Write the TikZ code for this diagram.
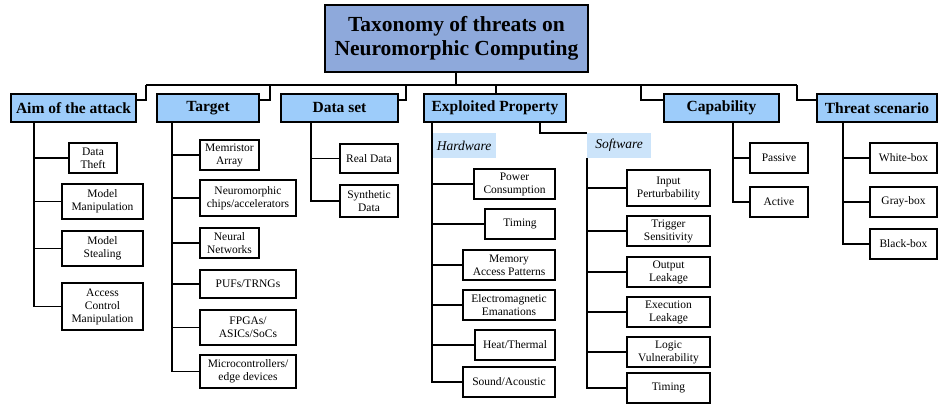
\documentclass[tikz,border=0pt]{standalone}
\usepackage{fontspec}
\setmainfont{Liberation Serif}
\definecolor{rootc}{HTML}{8EA9DB}
\definecolor{catc}{HTML}{9DCCFA}
\definecolor{subc}{HTML}{CCE4FA}
\tikzset{
  ln/.style={line width=1.3pt},
  box/.style={draw,line width=1.1pt,inner sep=1pt,align=center,font=\fontsize{11.5}{13}\selectfont},
  cat/.style={box,fill=catc,line width=1.4pt,font=\fontsize{15.5}{17}\selectfont\bfseries},
  sub/.style={fill=subc,inner sep=1pt,font=\fontsize{13.5}{15}\selectfont\itshape},
}
\newcommand{\bx}[7]{\node[#1,minimum width=#4-#2,minimum height=#5-#3] (#6) at ({(#2+#4)/2},{(#3+#5)/2}) {#7};}
\begin{document}
\begin{tikzpicture}[x=1pt,y=-1pt]
\useasboundingbox (0,0) rectangle (947,409);
\bx{box,fill=rootc,line width=1.6pt,font=\fontsize{21.5}{24}\selectfont\bfseries}{325}{5}{588}{72}{root}{Taxonomy of threats on\\Neuromorphic Computing}
\bx{cat}{11}{94}{136}{122}{aim}{Aim of the attack}
\bx{cat}{157}{94}{259}{122}{tgt}{Target}
\bx{cat}{281}{94}{398}{122}{ds}{Data set}
\bx{cat}{424}{94}{566}{122}{ep}{Exploited Property}
\bx{cat}{664}{94}{779}{122}{cap}{Capability}
\bx{cat}{817}{94}{937}{122}{ts}{Threat scenario}
% bus
\coordinate (b0) at (456,85);
\draw[ln] (root.south -| b0) -- (b0);
\draw[ln] (146,85) -- (797,85);
\draw[ln] (146,85) |- (aim.east |- 0,100);
\draw[ln] (270,85) |- (tgt.east |- 0,100);
\draw[ln] (406,85) |- (ds.east |- 0,100);
\draw[ln] (496,85) -- (ep.north -| 496,0);
\draw[ln] (641,85) |- (cap.west |- 0,100);
\draw[ln] (797,85) |- (ts.west |- 0,100);
% Aim
\bx{box}{69}{143}{117}{173}{a1}{Data\\Theft}
\bx{box}{62}{184}{143}{219}{a2}{Model\\Manipulation}
\bx{box}{62}{231}{143}{266}{a3}{Model\\Stealing}
\bx{box}{62}{283}{143}{330}{a4}{Access\\Control\\Manipulation}
\coordinate (aS) at (34,122);
\foreach \n in {a1,a2,a3,a4} \draw[ln] (aS) |- (\n.west);
% Target
\bx{box}{200}{140}{259}{170}{t1}{Memristor\\Array}
\bx{box}{200}{180}{296}{216}{t2}{Neuromorphic\\chips/accelerators}
\bx{box}{200}{228}{259}{258}{t3}{Neural\\Networks}
\bx{box}{200}{270}{296}{298}{t4}{PUFs/TRNGs}
\bx{box}{200}{310}{296}{345}{t5}{FPGAs/\\ASICs/SoCs}
\bx{box}{200}{355}{296}{388}{t6}{Microcontrollers/\\edge devices}
\coordinate (tS) at (172,122);
\foreach \n in {t1,t2,t3,t4,t5,t6} \draw[ln] (tS) |- (\n.west);
% Data set
\bx{box}{340}{144}{398}{173}{d1}{Real Data}
\bx{box}{340}{185}{398}{217}{d2}{Synthetic\\Data}
\coordinate (dS) at (311,122);
\foreach \n in {d1,d2} \draw[ln] (dS) |- (\n.west);
% Exploited
\bx{sub}{432}{133}{496}{158}{hw}{Hardware}
\bx{sub}{587}{133}{651}{158}{sw}{Software}
\coordinate (eS) at (432,122);
\coordinate (eT) at (540,122);
\draw[ln] (eT) |- (sw.west |- 0,133);
\bx{box}{474}{169}{555}{199}{h1}{Power\\Consumption}
\bx{box}{485}{209}{555}{239}{h2}{Timing}
\bx{box}{463}{250}{555}{280}{h3}{Memory\\Access Patterns}
\bx{box}{463}{290}{555}{320}{h4}{Electromagnetic\\Emanations}
\bx{box}{475}{330}{555}{360}{h5}{Heat/Thermal}
\bx{box}{463}{367}{555}{397}{h6}{Sound/Acoustic}
\foreach \n in {h1,h2,h3,h4,h5,h6} \draw[ln] (eS) |- (\n.west);
\bx{box}{627}{170}{710}{206}{s1}{Input\\Perturbability}
\bx{box}{627}{216}{710}{246}{s2}{Trigger\\Sensitivity}
\bx{box}{627}{257}{710}{287}{s3}{Output\\Leakage}
\bx{box}{627}{297}{710}{327}{s4}{Execution\\Leakage}
\bx{box}{627}{337}{710}{367}{s5}{Logic\\Vulnerability}
\bx{box}{627}{373}{710}{403}{s6}{Timing}
\coordinate (sS) at (587,158);
\foreach \n in {s1,s2,s3,s4,s5,s6} \draw[ln] (sS) |- (\n.west);
% Capability
\bx{box}{750}{143}{808}{173}{c1}{Passive}
\bx{box}{750}{187}{808}{217}{c2}{Active}
\coordinate (cS) at (733,122);
\foreach \n in {c1,c2} \draw[ln] (cS) |- (\n.west);
% Threat
\bx{box}{870}{143}{937}{173}{w1}{White-box}
\bx{box}{870}{187}{937}{217}{w2}{Gray-box}
\bx{box}{870}{229}{937}{259}{w3}{Black-box}
\coordinate (wS) at (843,122);
\foreach \n in {w1,w2,w3} \draw[ln] (wS) |- (\n.west);
\end{tikzpicture}
\end{document}
